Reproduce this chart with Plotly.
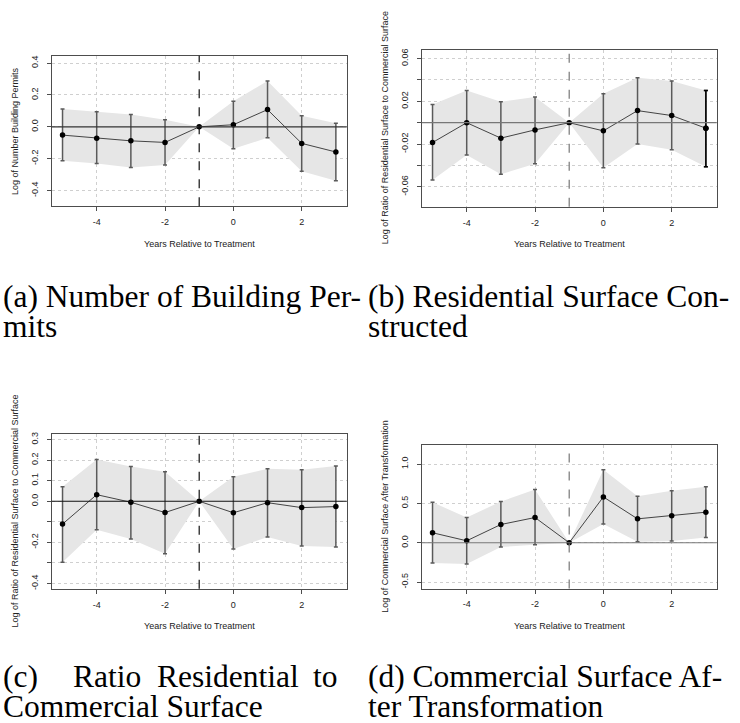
import plotly.graph_objects as go

W, H = 740, 723

years = [-5, -4, -3, -2, -1, 0, 1, 2, 3]

# (a) Number of Building Permits
est_a = [-0.052, -0.071, -0.088, -0.098, 0.0, 0.013, 0.108, -0.104, -0.158]
lo_a = [-0.213, -0.231, -0.256, -0.240, 0.0, -0.138, -0.069, -0.279, -0.338]
hi_a = [0.112, 0.094, 0.077, 0.044, 0.0, 0.160, 0.288, 0.069, 0.023]

# (b) Residential Surface Constructed
est_b = [-0.0185, 0.0, -0.0144, -0.0067, 0.0, -0.0076, 0.0113, 0.0067, -0.0051]
lo_b = [-0.0535, -0.0302, -0.0482, -0.0383, 0.0, -0.0420, -0.0200, -0.0253, -0.0411]
hi_b = [0.0169, 0.0302, 0.0197, 0.0240, 0.0, 0.0271, 0.0420, 0.0389, 0.0302]

# (c) Ratio Residential to Commercial Surface
est_c = [-0.111, 0.032, -0.005, -0.055, 0.0, -0.056, -0.007, -0.031, -0.026]
lo_c = [-0.297, -0.139, -0.184, -0.255, 0.0, -0.232, -0.174, -0.218, -0.223]
hi_c = [0.071, 0.203, 0.169, 0.144, 0.0, 0.119, 0.158, 0.153, 0.171]

# (d) Commercial Surface After Transformation
est_d = [0.127, 0.025, 0.232, 0.321, 0.0, 0.583, 0.304, 0.342, 0.389]
lo_d = [-0.258, -0.270, -0.055, -0.025, 0.0, 0.237, 0.013, 0.021, 0.068]
hi_d = [0.515, 0.321, 0.524, 0.676, 0.0, 0.929, 0.591, 0.663, 0.714]

x_tick_vals = [-4, -2, 0, 2]
x_tick_text = ["-4", "-2", "0", "2"]

ytv_a = [-0.4, -0.2, 0.0, 0.2, 0.4]
ytt_a = ["-0.4", "-0.2", "0.0", "0.2", "0.4"]
ytv_b = [-0.06, -0.04, -0.02, 0.0, 0.02, 0.04, 0.06]
ytt_b = ["-0.06", "", "-0.02", "", "0.02", "", "0.06"]
ytv_c = [-0.4, -0.3, -0.2, -0.1, 0.0, 0.1, 0.2, 0.3]
ytt_c = ["-0.4", "", "-0.2", "", "0.0", "0.1", "0.2", "0.3"]
ytv_d = [-0.5, 0.0, 0.5, 1.0]
ytt_d = ["-0.5", "0.0", "0.5", "1.0"]

x_title = "Years Relative to Treatment"
y_titles = ["Log of Number Building Permits",
            "Log of Ratio of Residential Surface to Commercial Surface",
            "Log of Ratio of Residential Surface to Commercial Surface",
            "Log of Commercial Surface After Transformation"]


def px(x):
    return x / W


def py(y):
    return 1 - y / H


# panel boxes in pixels: (left, right, top, bottom)
boxes = [(51.7, 346.7, 54.0, 205.0),
         (421.7, 716.7, 47.7, 205.7),
         (51.7, 346.7, 434.0, 589.3),
         (421.7, 716.7, 445.0, 589.0)]
yranges = [(-0.498, 0.446), (-0.0786, 0.0684), (-0.426, 0.326), (-0.583, 1.242)]
xrange_ = (-5.317, 3.317)
zero_col = ["#333333", "#777777", "#111111", "#777777"]
vline_col = ["#111111", "#777777", "#111111", "#777777"]
xtitle_y = [242.7, 243.3, 626.7, 626.7]
ytitle_x = [15, 385, 15, 385]

data = [(est_a, lo_a, hi_a, ytv_a, ytt_a),
        (est_b, lo_b, hi_b, ytv_b, ytt_b),
        (est_c, lo_c, hi_c, ytv_c, ytt_c),
        (est_d, lo_d, hi_d, ytv_d, ytt_d)]

fig = go.Figure()
tick_font = dict(family="Liberation Sans, Arial", size=9, color="#222222")
annotations = []
shapes = []

for i, (est, lo, hi, ytv, ytt) in enumerate(data):
    n = "" if i == 0 else str(i + 1)
    xa, ya = "x" + n, "y" + n
    l, r, t, b = boxes[i]
    fig.add_trace(go.Scatter(
        x=years + years[::-1], y=hi + lo[::-1], fill="toself",
        fillcolor="#e6e6e6", line=dict(width=0), mode="lines",
        hoverinfo="skip", xaxis=xa, yaxis=ya))
    fig.add_trace(go.Scatter(
        x=years, y=est, mode="lines+markers",
        line=dict(color="#444444", width=1),
        marker=dict(color="black", size=5.5),
        error_y=dict(type="data", symmetric=False,
                     array=[h - e for h, e in zip(hi, est)],
                     arrayminus=[e - lo_ for e, lo_ in zip(est, lo)],
                     color="#5a5a5a", thickness=1.5, width=2),
        xaxis=xa, yaxis=ya))
    axis_common = dict(showline=True, mirror=True, linecolor="#4d4d4d", linewidth=1.2,
                       ticks="outside", ticklen=4, tickcolor="#4d4d4d",
                       showgrid=True, gridcolor="#cfcfcf", griddash="dot", gridwidth=1,
                       zeroline=False, tickfont=tick_font)
    fig.layout["xaxis" + n] = dict(
        domain=[px(l), px(r)], range=list(xrange_), anchor=ya,
        tickvals=x_tick_vals, ticktext=x_tick_text, ticklabelstandoff=3, **axis_common)
    fig.layout["yaxis" + n] = dict(
        domain=[py(b), py(t)], range=list(yranges[i]), anchor=xa,
        tickvals=ytv, ticktext=ytt, tickangle=-90, ticklabelstandoff=5, **axis_common)
    shapes.append(dict(type="line", xref=xa + " domain", yref=ya, x0=0, x1=1, y0=0, y1=0,
                       line=dict(color=zero_col[i], width=1.2), layer="above"))
    shapes.append(dict(type="line", xref=xa, yref=ya + " domain", x0=-1, x1=-1, y0=0, y1=1,
                       line=dict(color=vline_col[i], width=1.2, dash="dash"), layer="above"))
    annotations.append(dict(text=x_title, x=px((l + r) / 2), y=py(xtitle_y[i]),
                            xref="paper", yref="paper", showarrow=False,
                            xanchor="center", yanchor="middle", font=tick_font))
    annotations.append(dict(text=y_titles[i], x=px(ytitle_x[i]), y=py((t + b) / 2),
                            xref="paper", yref="paper", showarrow=False, textangle=-90,
                            xanchor="center", yanchor="middle", font=tick_font))

# darker last error bar in panel (b)
fig.add_trace(go.Scatter(
    x=years[-1:], y=est_b[-1:], mode="markers", marker=dict(color="black", size=5.5),
    error_y=dict(type="data", symmetric=False, array=[hi_b[-1] - est_b[-1]],
                 arrayminus=[est_b[-1] - lo_b[-1]], color="black", thickness=1.5, width=2),
    xaxis="x2", yaxis="y2"))

cap_font = dict(family="Liberation Serif, Times New Roman, serif", size=31.5, color="black")


def cap(text, x, base_y):
    annotations.append(dict(text=text, x=px(x), y=py(base_y - 11), xref="paper", yref="paper",
                            showarrow=False, xanchor="left", yanchor="middle", font=cap_font))


cap("(a) Number of Building Per-", 1, 307)
cap("mits", 1, 337)
cap("(b) Residential Surface Con-", 366, 307)
cap("structed", 366, 337)
cap("(c)", 1, 688)
cap("Ratio", 71, 688)
cap("Residential", 155, 688)
cap("to", 311, 688)
cap("Commercial Surface", 1, 718)
cap("(d) Commercial Surface Af-", 366, 688)
cap("ter Transformation", 366, 718)

fig.update_layout(width=W, height=H, margin=dict(l=0, r=0, t=0, b=0),
                  paper_bgcolor="white", plot_bgcolor="white", showlegend=False,
                  annotations=annotations, shapes=shapes)

fig.write_html("out.html", config={"displayModeBar": False},
               post_script="document.body.style.margin='0px';")
